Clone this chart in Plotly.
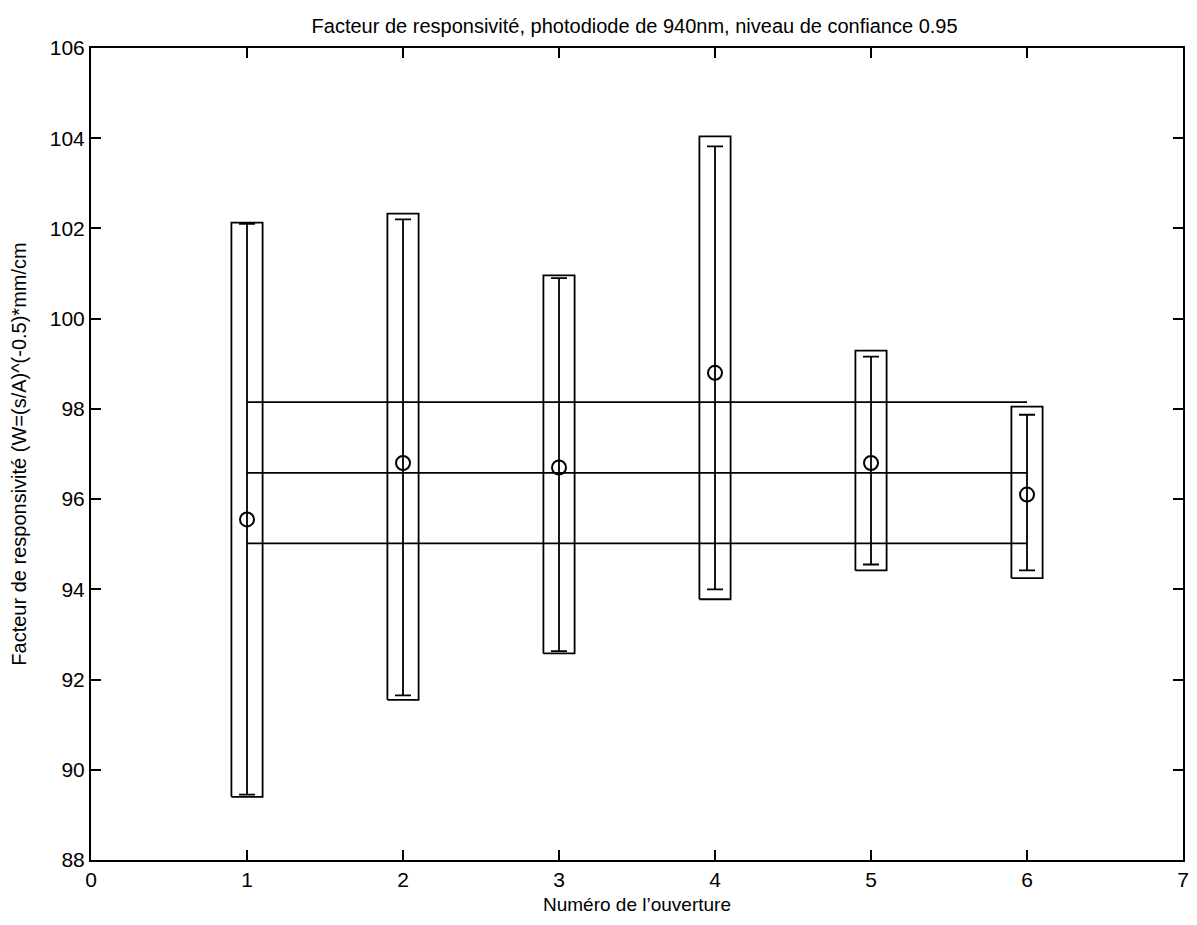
import plotly.graph_objects as go

# Data
apertures = [1, 2, 3, 4, 5, 6]
means = [95.55, 96.8, 96.7, 98.8, 96.8, 96.1]
err_low = [89.45, 91.65, 92.63, 94.0, 94.55, 94.42]
err_high = [102.1, 102.2, 100.9, 103.82, 99.16, 97.87]
box_low = [89.4, 91.55, 92.58, 93.78, 94.42, 94.25]
box_high = [102.13, 102.33, 100.96, 104.04, 99.29, 98.05]
overall_lines = [98.15, 96.58, 95.02]  # upper CI, mean, lower CI
box_half_width = 0.1

x_ticks = [0, 1, 2, 3, 4, 5, 6, 7]
y_ticks = [88, 90, 92, 94, 96, 98, 100, 102, 104, 106]

FONT = "Liberation Sans, Arial, Helvetica, sans-serif"
BLACK = "#000000"
LW = 1.8

fig = go.Figure()

# Rectangles around each aperture
for xi, lo, hi in zip(apertures, box_low, box_high):
    x0, x1 = xi - box_half_width, xi + box_half_width
    fig.add_trace(go.Scatter(
        x=[x0, x1, x1, x0, x0], y=[lo, lo, hi, hi, lo],
        mode="lines", line=dict(color=BLACK, width=LW),
        showlegend=False, hoverinfo="skip"))

# Horizontal lines (overall mean and its confidence interval)
for v in overall_lines:
    fig.add_trace(go.Scatter(
        x=[apertures[0], apertures[-1]], y=[v, v],
        mode="lines", line=dict(color=BLACK, width=LW),
        showlegend=False, hoverinfo="skip"))

# Means with error bars
fig.add_trace(go.Scatter(
    x=apertures, y=means, mode="markers",
    marker=dict(symbol="circle-open", size=14, color=BLACK,
                line=dict(color=BLACK, width=2)),
    error_y=dict(type="data", symmetric=False,
                 array=[h - m for h, m in zip(err_high, means)],
                 arrayminus=[m - l for m, l in zip(means, err_low)],
                 color=BLACK, thickness=LW, width=8),
    showlegend=False))

# The page body adds an 8px offset; size the figure to compensate
fig.update_layout(
    width=1189, height=917,
    paper_bgcolor="white", plot_bgcolor="white",
    margin=dict(l=83, r=8, t=40, b=65),
    font=dict(family=FONT, color=BLACK, size=19),
    title=dict(text="Facteur de responsivité, photodiode de 940nm, niveau de confiance 0.95",
               x=0.527, xanchor="center", y=0.980, yanchor="middle",
               font=dict(family=FONT, size=20, color=BLACK)),
)

fig.update_xaxes(
    range=[0, 7], tickvals=x_ticks, ticktext=[str(t) for t in x_ticks],
    showgrid=False, zeroline=False,
    showline=True, linecolor=BLACK, linewidth=2, mirror="ticks",
    ticks="inside", ticklen=10, tickwidth=LW, tickcolor=BLACK,
    tickfont=dict(family=FONT, size=21, color=BLACK),
    title=dict(text="Numéro de l’ouverture", standoff=7,
               font=dict(family=FONT, size=19, color=BLACK)),
)
fig.update_yaxes(
    range=[88, 106], tickvals=y_ticks, ticktext=[str(t) for t in y_ticks],
    showgrid=False, zeroline=False,
    showline=True, linecolor=BLACK, linewidth=2, mirror="ticks",
    ticks="inside", ticklen=10, tickwidth=LW, tickcolor=BLACK,
    tickfont=dict(family=FONT, size=21, color=BLACK),
    title=dict(text="Facteur de responsivité (W=(s/A)^(-0.5)*mm/cm", standoff=20,
               font=dict(family=FONT, size=20, color=BLACK)),
)

fig.write_html("out.html")
